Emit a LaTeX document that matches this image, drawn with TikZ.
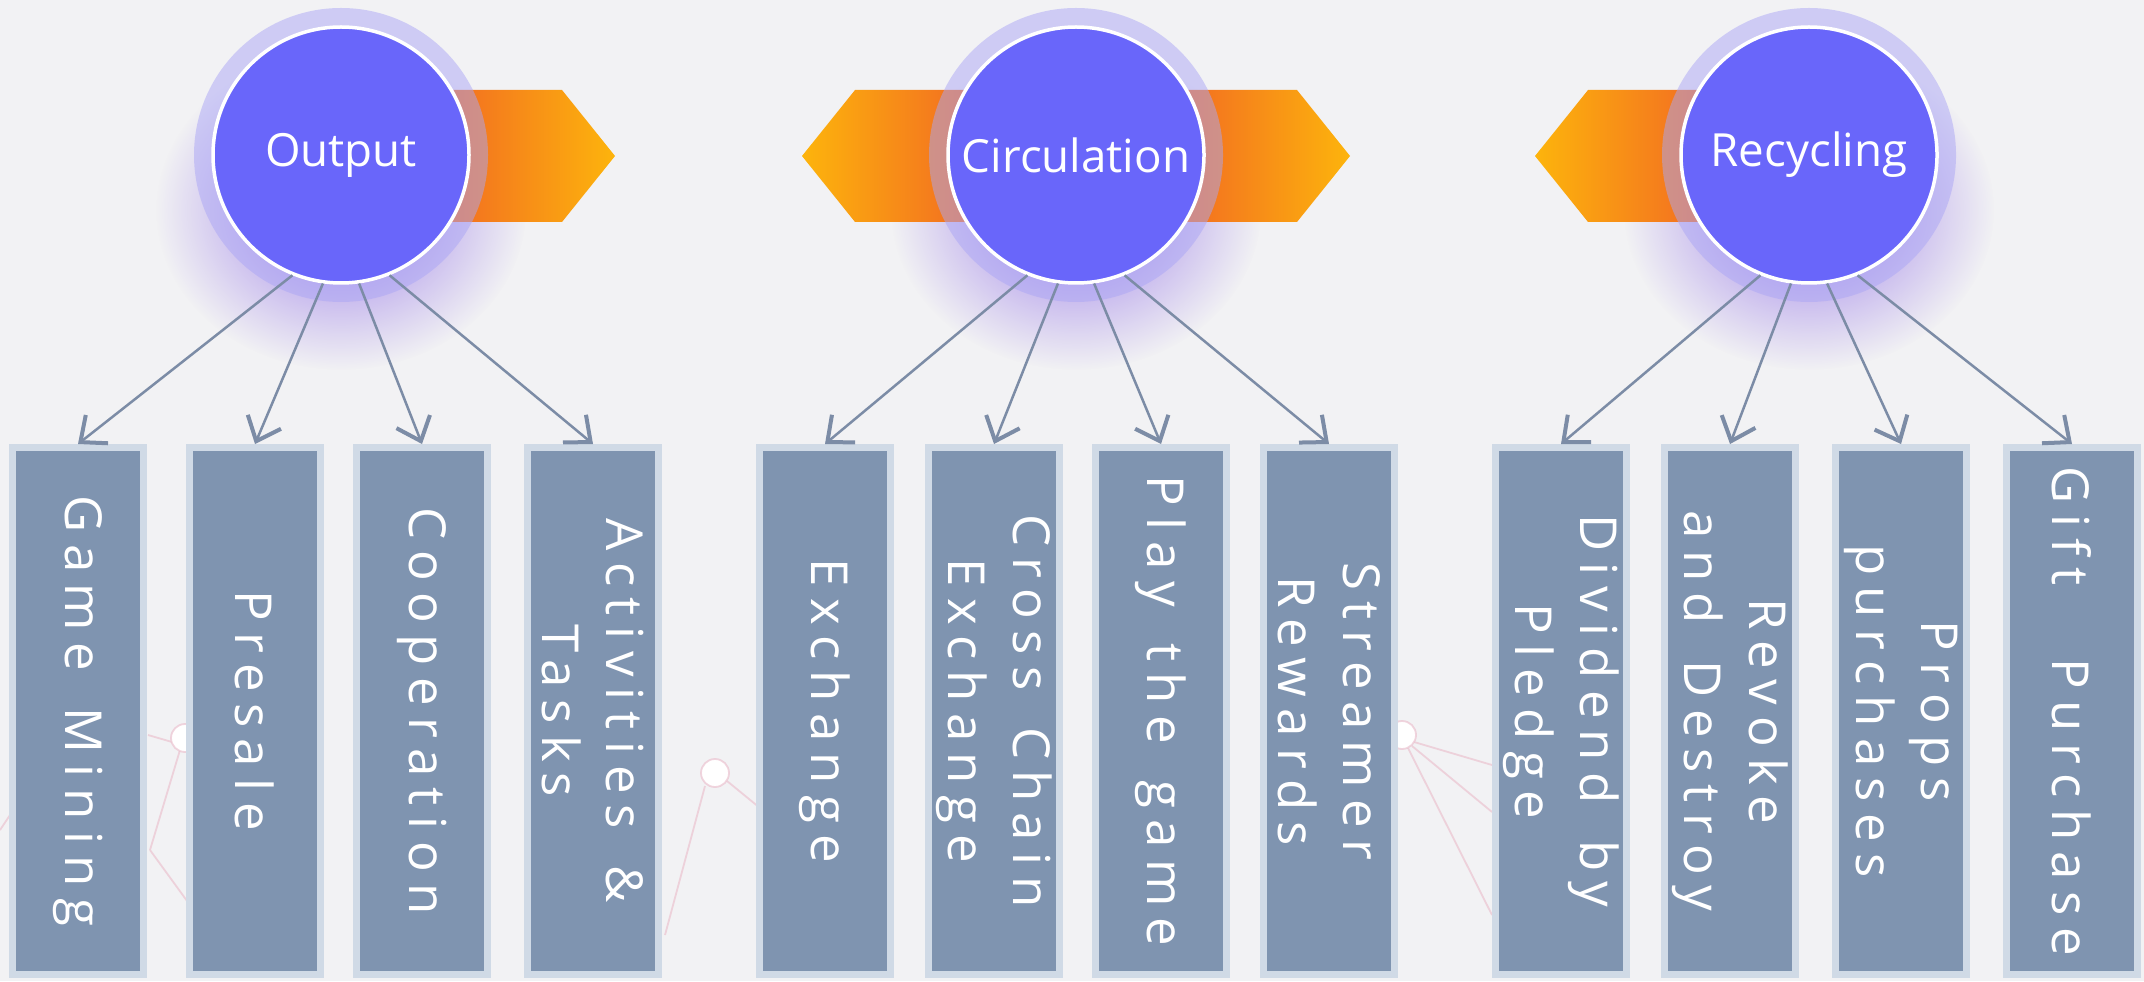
\documentclass[tikz,border=0pt]{standalone}
\usepackage{fontspec}
\setmainfont{Open Sans}
\newfontfamily\leaffont[LetterSpace=22,WordSpace=1.5]{Open Sans}
\usetikzlibrary{arrows.meta,fadings,calc}

\definecolor{bgcol}{HTML}{F2F2F4}
\definecolor{hubcol}{HTML}{6966FA}
\definecolor{halocol}{HTML}{ABA6F5}
\definecolor{glowcol}{HTML}{8A66E6}
\definecolor{leafcol}{HTML}{7F94B0}
\definecolor{rimcol}{HTML}{D0DAE6}
\definecolor{linkcol}{HTML}{7C8CA6}
\definecolor{bandcol}{HTML}{F26A22}
\definecolor{tipcol}{HTML}{FDB40C}
\definecolor{netcol}{HTML}{EBC3D0}
\tikzfading[name=glowfade, inner color=transparent!15, outer color=transparent!100]

\begin{document}
\begin{tikzpicture}[x=0.1mm, y=-0.1mm,
  hub/.style={circle, fill=hubcol, draw=white, line width=0.35mm,
    minimum size=25.6mm, inner sep=0pt, text=white,
    font=\fontsize{13}{15}\selectfont},
  leaf/.style={rectangle, rotate=-90, fill=leafcol, draw=rimcol,
    line width=0.7mm, minimum width=52.7mm, minimum height=13.1mm,
    inner sep=0pt, text=white, align=center,
    font=\leaffont\fontsize{14.5}{18.4}\selectfont},
  link/.style={draw=linkcol, line width=0.25mm,
    -{Straight Barb[length=2.1mm,width=3.6mm,line width=0.4mm]}},
  bandR/.style={left color=bandcol, right color=tipcol},
  bandL/.style={left color=tipcol, right color=bandcol},
  net/.style={draw=netcol, line width=0.18mm, draw opacity=0.7}
]
  \fill[bgcol] (0,0) rectangle (2144,981);
  \useasboundingbox (0,0) rectangle (2144,981);

  % faint network in the back
  \draw[net] (705,786) -- (665,935) (727,781) -- (760,808);
  \draw[net] (1414,742) -- (1492,765) (1412,746) -- (1492,812)
    (1408,748) -- (1492,915) (1390,742) -- (1360,780);
  \draw[net] (172,742) -- (148,735) (180,750) -- (150,850)
    (150,850) -- (190,905) (0,830) -- (20,800);
  \foreach \p in {(715,773), (1402,735), (185,738)}
    \filldraw[net, fill=white] \p circle (14);

  % glow, bands and halo
  \foreach \cx in {341,1076,1809}
    \fill[glowcol, path fading=glowfade] (\cx,210) ellipse [x radius=185, y radius=160];
  \foreach \cx/\d/\s in {341/1/bandR, 1076/1/bandR, 1076/-1/bandL, 1809/-1/bandL}
    \shade[\s] ({\cx+(\d)*100},90) -- ({\cx+(\d)*221},90) -- ({\cx+(\d)*274},156)
      -- ({\cx+(\d)*221},222) -- ({\cx+(\d)*100},222) -- cycle;
  \foreach \cx in {341,1076,1809}
    \fill[halocol, opacity=0.5] (\cx,155) circle (147);

  % hubs
  \node[hub] (out) at (341,155) {Output};
  \node[hub] (cir) at (1076,155) {Circulation};
  \node[hub] (rec) at (1809,155) {Recycling};

  % leaves
  \node[leaf] (gm) at (78,711) {Game Mining};
  \node[leaf] (ps) at (255,711) {Presale};
  \node[leaf] (co) at (422,711) {Cooperation};
  \node[leaf] (at) at (593,711) {Activities \&\\Tasks};
  \node[leaf] (ex) at (825,711) {Exchange};
  \node[leaf] (cc) at (994,711) {Cross Chain\\Exchange};
  \node[leaf] (pg) at (1161,711) {Play the game};
  \node[leaf] (sr) at (1329,711) {Streamer\\Rewards};
  \node[leaf] (dp) at (1561,711) {Dividend by\\Pledge};
  \node[leaf] (rd) at (1730,711) {Revoke\\and Destroy};
  \node[leaf] (pp) at (1901,711) {Props\\purchases};
  \node[leaf] (gp) at (2072,711) {Gift\ \ Purchase};

  \foreach \h/\a/\b/\c/\d in {out/gm/ps/co/at, cir/ex/cc/pg/sr, rec/dp/rd/pp/gp} {
    \draw[link] (\h.248) -- (\a.west);
    \draw[link] (\h.262) -- (\b.west);
    \draw[link] (\h.278) -- (\c.west);
    \draw[link] (\h.292) -- (\d.west);
  }
\end{tikzpicture}
\end{document}
